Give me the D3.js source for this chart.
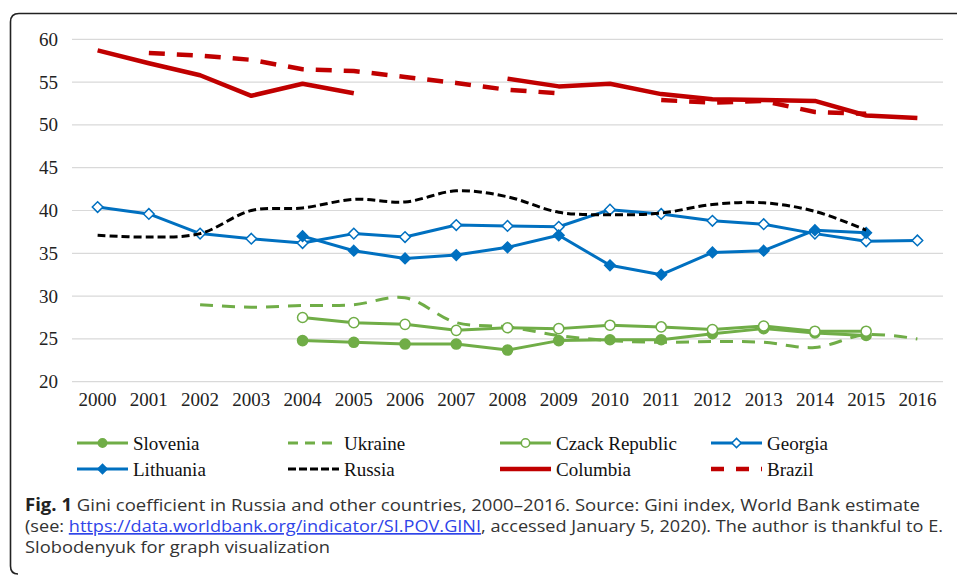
<!DOCTYPE html>
<html>
<head>
<meta charset="utf-8">
<script src="https://d3js.org/d3.v7.min.js"></script>
<style>
  body { margin: 0; background: #fff; }
  .serif { font-family: "Liberation Serif", "Times New Roman", "DejaVu Serif", serif; }
</style>
</head>
<body>
<div id="chart"></div>

<script>
    // data
    var years = ["2000","2001","2002","2003","2004","2005","2006","2007","2008",
                 "2009","2010","2011","2012","2013","2014","2015","2016"];
    var yTicks = [20, 25, 30, 35, 40, 45, 50, 55, 60];

    var slovenia  = [null,null,null,null,24.8,24.6,24.4,24.4,23.7,24.8,24.9,24.9,25.6,26.2,25.7,25.4,null];
    var ukraine   = [null,null,29.0,28.7,28.9,29.0,29.8,26.9,26.4,25.4,24.8,24.6,24.7,24.6,24.0,25.5,25.0];
    var czech     = [null,null,null,null,27.5,26.9,26.7,26.0,26.3,26.2,26.6,26.4,26.1,26.5,25.9,25.9,null];
    var georgia   = [40.4,39.6,37.3,36.7,36.2,37.3,36.9,38.3,38.2,38.1,40.1,39.6,38.8,38.4,37.3,36.4,36.5];
    var lithuania = [null,null,null,null,37.0,35.3,34.4,34.8,35.7,37.1,33.6,32.5,35.1,35.3,37.7,37.4,null];
    var russia    = [37.1,36.9,37.3,40.0,40.3,41.3,41.0,42.3,41.6,39.8,39.5,39.7,40.7,40.9,39.9,37.7,null];
    var columbia  = [58.7,57.2,55.8,53.4,54.8,53.7,null,null,55.4,54.5,54.8,53.6,53.0,52.9,52.8,51.1,50.8];
    var brazil    = [null,58.4,58.1,57.6,56.5,56.3,55.6,54.9,54.1,53.7,null,52.9,52.6,52.8,51.5,51.3,null];

    var green = "#70AD47", blue = "#0070C0", red = "#C00000", black = "#000000";

    // order of drawing = order of legend
    var series = [
        {name: "Slovenia", values: slovenia, color: green, width: 3, dash: null, legDash: null, marker: "circle", fill: true},
        {name: "Ukraine", values: ukraine, color: green, width: 3, dash: "13,9", legDash: "10,7", marker: null, smooth: true},
        {name: "Czack Republic", values: czech, color: green, width: 3, dash: null, legDash: null, marker: "circle", fill: false},
        {name: "Georgia", values: georgia, color: blue, width: 3, dash: null, legDash: null, marker: "diamond", fill: false},
        {name: "Lithuania", values: lithuania, color: blue, width: 3, dash: null, legDash: null, marker: "diamond", fill: true},
        {name: "Russia", values: russia, color: black, width: 3, dash: "8,4", legDash: "8,3", marker: null, smooth: true},
        {name: "Columbia", values: columbia, color: red, width: 4.5, dash: null, legDash: null, marker: null},
        {name: "Brazil", values: brazil, color: red, width: 4.5, dash: "16,12", legDash: "13,12", marker: null}
    ];

    var W = 957, H = 575;
    var svg = d3.select("#chart")
        .append("svg")
        .attr("width", W)
        .attr("height", H);

    // frame with rounded corner
    svg.append("path")
        .attr("d", "M957,13.5 L19,13.5 Q10.5,13.5 10.5,22 L10.5,566 Q10.5,574 18,574")
        .attr("fill", "none")
        .attr("stroke", "#222")
        .attr("stroke-width", 1.6);

    // scales
    var x = d3.scaleBand()
        .domain(years)
        .range([72, 943]);
    var y = d3.scaleLinear()
        .domain([20, 60])
        .range([381.7, 39.3]);

    function cx(i) { return x(years[i]) + x.bandwidth() / 2; }

    // gridlines
    svg.append("g")
        .selectAll("line")
        .data(yTicks)
        .enter()
        .append("line")
        .attr("x1", 72)
        .attr("x2", 943)
        .attr("y1", function (d) { return y(d); })
        .attr("y2", function (d) { return y(d); })
        .attr("stroke", "#d9d9d9")
        .attr("stroke-width", 1.2);

    // y axis labels
    var yAxis = svg.append("g")
        .attr("transform", "translate(58,0)")
        .call(d3.axisLeft(y).tickValues(yTicks).tickSize(0).tickPadding(0));
    yAxis.attr("font-family", null).attr("font-size", null);
    yAxis.select(".domain").remove();
    yAxis.selectAll("text")
        .attr("class", "serif")
        .style("font-size", "19px")
        .attr("fill", "#222");

    // x axis labels
    var xAxis = svg.append("g")
        .attr("transform", "translate(0,392)")
        .call(d3.axisBottom(x).tickSize(0).tickPadding(0));
    xAxis.attr("font-family", null).attr("font-size", null);
    xAxis.select(".domain").remove();
    xAxis.selectAll("text")
        .attr("class", "serif")
        .style("font-size", "19px")
        .attr("fill", "#222");

    // lines
    series.forEach(function (s) {
        var line = d3.line()
            .defined(function (d) { return d != null; })
            .x(function (d, i) { return cx(i); })
            .y(function (d) { return y(d); })
            .curve(s.smooth ? d3.curveCatmullRom.alpha(0.5) : d3.curveLinear);

        svg.append("path")
            .datum(s.values)
            .attr("d", line)
            .attr("fill", "none")
            .attr("stroke", s.color)
            .attr("stroke-width", s.width)
            .attr("stroke-linejoin", "round")
            .attr("stroke-dasharray", s.dash);

        if (s.marker) {
            var pts = s.values.map(function (v, i) { return {v: v, i: i}; })
                .filter(function (d) { return d.v != null; });
            var sym = s.marker === "circle" ? d3.symbolCircle : d3.symbolDiamond2;
            var size = s.marker === "circle" ? 80 : 72;
            svg.append("g")
                .selectAll("path")
                .data(pts)
                .enter()
                .append("path")
                .attr("transform", function (d) { return "translate(" + cx(d.i) + "," + y(d.v) + ")"; })
                .attr("d", d3.symbol().type(sym).size(size))
                .attr("fill", s.fill ? s.color : "#fff")
                .attr("stroke", s.color)
                .attr("stroke-width", 1.5);
        }
    });

    // legend
    var legX = [77, 288, 500, 711], legY = [443, 469];
    var leg = svg.append("g");
    series.forEach(function (s, k) {
        var lx = legX[k % 4], ly = legY[Math.floor(k / 4)];
        var g = leg.append("g").attr("transform", "translate(" + lx + "," + ly + ")");
        g.append("line")
            .attr("x1", 0).attr("x2", 51)
            .attr("y1", 0).attr("y2", 0)
            .attr("stroke", s.color)
            .attr("stroke-width", s.width)
            .attr("stroke-dasharray", s.legDash);
        if (s.marker) {
            var sym = s.marker === "circle" ? d3.symbolCircle : d3.symbolDiamond2;
            g.append("path")
                .attr("transform", "translate(25.5,0)")
                .attr("d", d3.symbol().type(sym).size(55))
                .attr("fill", s.fill ? s.color : "#fff")
                .attr("stroke", s.color)
                .attr("stroke-width", 1.5);
        }
        g.append("text")
            .attr("class", "serif")
            .attr("x", 56)
            .attr("y", 6.5)
            .style("font-size", "19px")
            .attr("fill", "#111")
            .text(s.name);
    });

    // caption
    var cap = svg.append("g")
        .style("font-family", "'Open Sans', 'Noto Sans', sans-serif")
        .style("font-size", "17px")
        .attr("fill", "#333");

    var l1 = cap.append("text").attr("x", 25).attr("y", 511)
        .attr("textLength", 895).attr("lengthAdjust", "spacingAndGlyphs");
    l1.append("tspan").attr("font-weight", "bold").attr("fill", "#222").text("Fig. 1");
    l1.append("tspan").text(" Gini coefficient in Russia and other countries, 2000\u20132016. Source: Gini index, World Bank estimate");

    var l2 = cap.append("text").attr("x", 25).attr("y", 532)
        .attr("textLength", 918).attr("lengthAdjust", "spacingAndGlyphs");
    l2.append("tspan").text("(see: ");
    l2.append("tspan").attr("fill", "#2f45e8").attr("text-decoration", "underline")
        .text("https://data.worldbank.org/indicator/SI.POV.GINI");
    l2.append("tspan").text(", accessed January 5, 2020). The author is thankful to E.");

    cap.append("text").attr("x", 25).attr("y", 553)
        .attr("textLength", 305).attr("lengthAdjust", "spacingAndGlyphs")
        .text("Slobodenyuk for graph visualization");
</script>
</body>
</html>
